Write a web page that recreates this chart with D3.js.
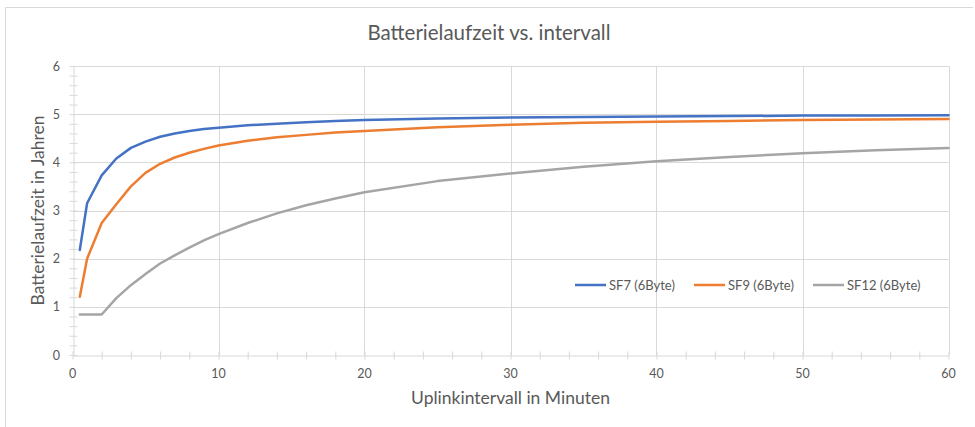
<!DOCTYPE html>
<html>
<head>
<meta charset="utf-8">
<script src="https://cdn.jsdelivr.net/npm/d3@7"></script>
<style>
  body { margin: 0; background: #fff; }
  text { font-family: Lato, "Open Sans", sans-serif; fill: #595959; }
</style>
</head>
<body>
<svg width="975" height="427"></svg>
<script>
var intervals = [0.5, 1, 2, 3, 4, 5, 6, 7, 8, 9, 10, 12, 14, 16, 18, 20, 25, 30, 35, 40, 45, 50, 55, 60];
var sf7  = [2.18, 3.15, 3.73, 4.08, 4.30, 4.43, 4.53, 4.60, 4.65, 4.69, 4.72, 4.77, 4.80, 4.83, 4.86, 4.88, 4.91, 4.93, 4.94, 4.95, 4.96, 4.97, 4.97, 4.98];
var sf9  = [1.21, 2.00, 2.74, 3.13, 3.50, 3.78, 3.97, 4.10, 4.20, 4.28, 4.35, 4.45, 4.52, 4.57, 4.62, 4.65, 4.73, 4.78, 4.82, 4.84, 4.86, 4.88, 4.89, 4.90];
var sf12 = [0.84, 0.84, 0.84, 1.18, 1.45, 1.68, 1.90, 2.07, 2.23, 2.38, 2.51, 2.74, 2.94, 3.11, 3.25, 3.38, 3.61, 3.77, 3.91, 4.02, 4.11, 4.19, 4.25, 4.30];
var seriesNames = ["SF7 (6Byte)", "SF9 (6Byte)", "SF12 (6Byte)"];
var xTicks = [0, 10, 20, 30, 40, 50, 60];
var yTicks = [0, 1, 2, 3, 4, 5, 6];

var colors = ["#4472C4", "#ED7D31", "#A5A5A5"];
var gridColor = "#d9d9d9";

var svg = d3.select("svg");
var plotL = 72.5, plotR = 948.5, plotT = 66, plotB = 355;

var x = d3.scaleLinear().domain([0, 60]).range([plotL, plotR]);
var y = d3.scaleLinear().domain([0, 6]).range([plotB, plotT]);

// chart frame (only top and left edges visible in the crop)
svg.append("line").attr("x1", 5.5).attr("x2", 973).attr("y1", 7.5).attr("y2", 7.5)
    .attr("stroke", gridColor);
svg.append("line").attr("x1", 5.5).attr("x2", 5.5).attr("y1", 7.5).attr("y2", 427)
    .attr("stroke", gridColor);

svg.append("text")
    .attr("x", 489).attr("y", 40)
    .attr("text-anchor", "middle")
    .style("font-size", "20.5px")
    .text("Batterielaufzeit vs. intervall");

// gridlines
svg.append("g").selectAll("line")
    .data(yTicks.slice(1))
    .enter().append("line")
    .attr("x1", plotL).attr("x2", plotR)
    .attr("y1", function (d) { return Math.round(y(d)) + 0.5; })
    .attr("y2", function (d) { return Math.round(y(d)) + 0.5; })
    .attr("stroke", gridColor);

svg.append("g").selectAll("line")
    .data(xTicks.slice(1))
    .enter().append("line")
    .attr("y1", plotT).attr("y2", plotB)
    .attr("x1", function (d) { return Math.round(x(d)) + 0.5; })
    .attr("x2", function (d) { return Math.round(x(d)) + 0.5; })
    .attr("stroke", gridColor);

// axes with crossing minor ticks
var xAxis = svg.append("g")
    .attr("transform", "translate(0," + (Math.round(plotB) + 0.5) + ")")
    .call(d3.axisBottom(x).tickValues(d3.range(0, 61, 2)).tickSize(0).tickFormat(""));
xAxis.select(".domain").attr("stroke", gridColor);
xAxis.selectAll(".tick line").attr("y1", -4).attr("y2", 4).attr("stroke", gridColor);

var yAxis = svg.append("g")
    .attr("transform", "translate(" + (Math.round(plotL) + 0.5) + ",0)")
    .call(d3.axisLeft(y).tickValues(d3.range(0, 30.5, 1).map(function (d) { return d / 5; })).tickSize(0).tickFormat(""));
yAxis.select(".domain").attr("stroke", gridColor);
yAxis.selectAll(".tick line").attr("x1", -4).attr("x2", 4).attr("stroke", gridColor);

// tick labels
svg.append("g").selectAll("text")
    .data(xTicks)
    .enter().append("text")
    .attr("x", function (d) { return x(d); })
    .attr("y", 378)
    .attr("text-anchor", "middle")
    .style("font-size", "12.5px")
    .text(function (d) { return d; });

svg.append("g").selectAll("text")
    .data(yTicks)
    .enter().append("text")
    .attr("x", 60)
    .attr("y", function (d) { return y(d) + 4.5; })
    .attr("text-anchor", "end")
    .style("font-size", "12.5px")
    .text(function (d) { return d; });

svg.append("text")
    .attr("x", (plotL + plotR) / 2).attr("y", 404)
    .attr("text-anchor", "middle")
    .style("font-size", "17.5px")
    .text("Uplinkintervall in Minuten");

svg.append("text")
    .attr("transform", "translate(44," + ((plotT + plotB) / 2) + ") rotate(-90)")
    .attr("text-anchor", "middle")
    .style("font-size", "17.5px")
    .text("Batterielaufzeit in Jahren");

// series
var line = d3.line()
    .x(function (d) { return x(d[0]); })
    .y(function (d) { return y(d[1]); });

[sf7, sf9, sf12].forEach(function (vals, i) {
    svg.append("path")
        .datum(intervals.map(function (t, j) { return [t, vals[j]]; }))
        .attr("fill", "none")
        .attr("stroke", colors[i])
        .attr("stroke-width", 2.5)
        .attr("stroke-linejoin", "round")
        .attr("stroke-linecap", "round")
        .attr("d", line);
});

// legend
var legendX = [575, 694, 813];
var legend = svg.append("g").selectAll("g")
    .data(seriesNames)
    .enter().append("g")
    .attr("transform", function (d, i) { return "translate(" + legendX[i] + ",285)"; });
legend.append("line")
    .attr("x1", 0).attr("x2", 31)
    .attr("stroke", function (d, i) { return colors[i]; })
    .attr("stroke-width", 2.5);
legend.append("text")
    .attr("x", 34).attr("y", 4.5)
    .style("font-size", "13px")
    .text(function (d) { return d; });
</script>
</body>
</html>
